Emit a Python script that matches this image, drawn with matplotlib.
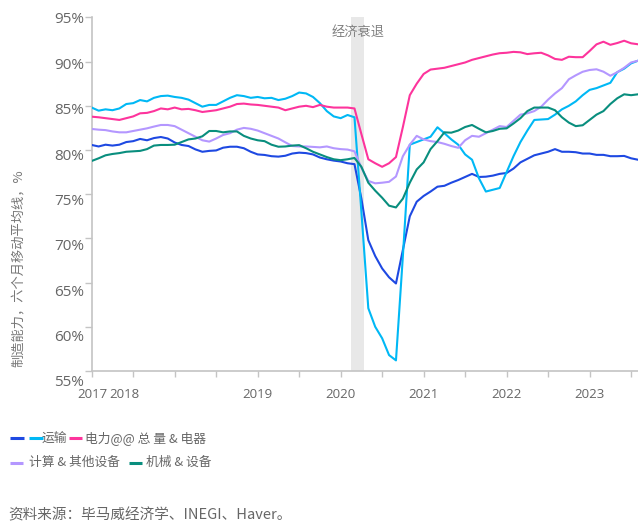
import numpy as np
import pandas as pd
import matplotlib
matplotlib.use("Agg")
import matplotlib.pyplot as plt
from matplotlib.lines import Line2D
import matplotlib.transforms as mtrans

plt.rcParams['font.family'] = ['Open Sans', 'Noto Sans CJK SC', 'DejaVu Sans']

# ---------------- data (monthly, 2017-01 .. 2023-08) ----------------
dates = pd.date_range('2017-01-01', periods=80, freq='MS')

dark_blue = [80.57, 80.4, 80.6, 80.5, 80.6, 80.9, 81.0, 81.25, 81.1, 81.35,
             81.47, 81.3, 80.85, 80.57, 80.45, 80.07, 79.8, 79.9, 79.95, 80.26,
             80.37, 80.37, 80.2, 79.8, 79.5, 79.44, 79.3, 79.25, 79.35, 79.6,
             79.7, 79.65, 79.5, 79.15, 78.95, 78.8, 78.7, 78.5, 78.4, 74.5,
             69.8, 68.0, 66.6, 65.6, 64.9, 68.7, 72.5, 74.15, 74.8, 75.3,
             75.85, 75.95, 76.3, 76.6, 76.95, 77.3, 76.95, 76.98, 77.1, 77.3,
             77.4, 77.9, 78.6, 79.0, 79.4, 79.6, 79.8, 80.1, 79.8, 79.8,
             79.75, 79.6, 79.6, 79.45, 79.45, 79.3, 79.3, 79.33, 79.06, 78.9]

light_blue = [84.8, 84.45, 84.6, 84.5, 84.7, 85.2, 85.3, 85.65, 85.5, 85.9,
              86.1, 86.15, 86.0, 85.9, 85.7, 85.3, 84.9, 85.1, 85.1, 85.5,
              85.9, 86.2, 86.1, 85.9, 86.0, 85.85, 85.9, 85.65, 85.8, 86.1,
              86.5, 86.4, 86.0, 85.3, 84.4, 83.8, 83.6, 83.96, 83.7, 73.0,
              62.1, 60.0, 58.7, 56.8, 56.2, 68.0, 80.6, 80.9, 81.2, 81.5,
              82.57, 81.9, 81.2, 80.6, 79.5, 78.9, 76.8, 75.3, 75.5, 75.7,
              77.5, 79.3, 80.9, 82.2, 83.4, 83.45, 83.5, 84.0, 84.6, 85.0,
              85.5, 86.2, 86.8, 87.0, 87.3, 87.6, 88.8, 89.2, 89.8, 90.1]

pink = [83.77, 83.7, 83.6, 83.5, 83.4, 83.6, 83.8, 84.15, 84.2, 84.4,
        84.7, 84.6, 84.8, 84.6, 84.65, 84.5, 84.3, 84.4, 84.5, 84.7,
        84.9, 85.2, 85.25, 85.15, 85.1, 85.0, 84.9, 84.8, 84.5, 84.7,
        84.9, 85.0, 84.85, 85.1, 84.9, 84.8, 84.8, 84.8, 84.7, 81.8,
        78.95, 78.5, 78.1, 78.5, 79.2, 82.6, 86.2, 87.5, 88.6, 89.1,
        89.2, 89.3, 89.5, 89.7, 89.9, 90.2, 90.4, 90.6, 90.8, 90.95,
        91.0, 91.1, 91.05, 90.85, 90.94, 91.0, 90.7, 90.3, 90.2, 90.55,
        90.5, 90.5, 91.2, 91.95, 92.25, 91.9, 92.1, 92.36, 92.07, 91.96]

lavender = [82.38, 82.3, 82.25, 82.1, 82.0, 82.0, 82.15, 82.3, 82.45, 82.65,
            82.83, 82.83, 82.7, 82.3, 81.9, 81.5, 81.1, 80.95, 81.3, 81.7,
            81.9, 82.3, 82.5, 82.4, 82.2, 81.9, 81.6, 81.3, 80.87, 80.45,
            80.4, 80.4, 80.35, 80.3, 80.4, 80.2, 80.1, 80.05, 79.85, 78.0,
            76.5, 76.23, 76.3, 76.4, 77.0, 79.3, 80.6, 81.6, 81.2, 81.0,
            80.9, 80.7, 80.45, 80.25, 81.1, 81.6, 81.5, 81.9, 82.3, 82.7,
            82.6, 83.3, 84.0, 84.15, 84.4, 84.9, 85.7, 86.4, 87.0, 88.0,
            88.45, 88.85, 89.05, 89.13, 88.86, 88.4, 88.8, 89.3, 89.9, 90.1]

teal = [78.76, 79.06, 79.4, 79.55, 79.65, 79.8, 79.85, 79.9, 80.1, 80.5,
        80.57, 80.57, 80.6, 80.9, 81.2, 81.3, 81.55, 82.15, 82.15, 82.0,
        82.1, 82.1, 81.6, 81.3, 81.1, 81.0, 80.6, 80.37, 80.4, 80.5,
        80.55, 80.2, 79.8, 79.5, 79.2, 78.95, 78.85, 78.95, 79.1, 78.1,
        76.3, 75.4, 74.6, 73.7, 73.5, 74.5, 76.3, 77.8, 78.6, 80.1,
        81.0, 82.0, 81.96, 82.2, 82.6, 82.83, 82.4, 82.0, 82.15, 82.4,
        82.45, 83.0, 83.6, 84.4, 84.8, 84.8, 84.8, 84.5, 83.7, 83.1,
        82.7, 82.8, 83.4, 84.0, 84.4, 85.2, 85.85, 86.3, 86.2, 86.3]

series_labels = ['', '运输', '电力@@ 总 量 & 电器', '计算 & 其他设备', '机械 & 设备']
series_colors = ['#1E49E2', '#00B8F5', '#FD349C', '#B497FF', '#098E7E']

year_labels = ['2017', '2018', '2019', '2020', '2021', '2022', '2023']
year_label_pos = [0.1, 4.7, 24, 36, 48, 60, 72]   # month index of label centres
y_ticks = [55, 60, 65, 70, 75, 80, 85, 90, 95]
recession = (37.5, 39.4)   # month index span
recession_label = '经济衰退'
y_title = '制造能力，六个月移动平均线，%'
source = '资料来源：毕马威经济学、INEGI、Haver。'

# ---------------- figure ----------------
W, H = 638, 522
fig = plt.figure(figsize=(W / 100, H / 100), dpi=100)
ax_l, ax_r, ax_t, ax_b = 91.7, 638, 17.4, 371
ax = fig.add_axes([ax_l / W, 1 - ax_b / H, (ax_r - ax_l) / W, (ax_b - ax_t) / H])

x = np.arange(len(dates))
ax.axvspan(recession[0], recession[1], color='#e8e8e8', lw=0, zorder=0)
ax.text(np.mean(recession), 93.35, recession_label, ha='center', va='center',
        fontsize=9.5, color='#808080', family=['Noto Sans CJK SC'])

for vals, col in zip([dark_blue, light_blue, pink, lavender, teal], series_colors):
    ax.plot(x, vals, color=col, lw=1.5, solid_joinstyle='round', zorder=3)

ax.set_xlim(0, 79)
ax.set_ylim(55, 95)

for s in ['top', 'right']:
    ax.spines[s].set_visible(False)
for s in ['left', 'bottom']:
    ax.spines[s].set_color('#c4c4c4')
    ax.spines[s].set_linewidth(1.2)

ax.xaxis.remove_overlapping_locs = False
ax.set_xticks(np.arange(0, 80, 6))
ax.set_xticklabels([])
ax.tick_params(axis='x', which='major', length=4, width=1, color='#c4c4c4')
ax.set_xticks(year_label_pos, minor=True)
ax.set_xticklabels(year_labels, minor=True)
ax.tick_params(axis='x', which='minor', length=0, pad=12, labelsize=9.5, labelcolor='#666666')

ax.set_yticks(y_ticks)
ax.set_yticklabels([])
ax.tick_params(axis='y', which='major', length=5, width=1, color='#c4c4c4')
trans = mtrans.blended_transform_factory(ax.transAxes, ax.transData)
for v in y_ticks:
    v_lab = v - 0.29 - 0.0266 * (95 - v)
    ax.text(-7.7 / (ax_r - ax_l), v_lab, f'{v}%', transform=trans, ha='right', va='center',
            fontsize=11, color='#666666', clip_on=False)

# y title
fig.text(18 / W, 1 - 367 / H, y_title, rotation=90, ha='center', va='bottom',
         fontsize=9.5, color='#777777', family=['Noto Sans CJK SC'])

# legend (manual layout)
def swatch(x0, x1, y, col):
    fig.add_artist(Line2D([x0 / W, x1 / W], [1 - y / H, 1 - y / H], color=col, lw=2.2,
                          transform=fig.transFigure, solid_capstyle='butt'))

def ltext(x0, y, s):
    fig.text(x0 / W, 1 - y / H, s, ha='left', va='center', fontsize=9.2, color='#666666',
             family=['Noto Sans CJK SC', 'DejaVu Sans'])

swatch(10, 24, 438, series_colors[0])
swatch(29, 42.5, 438, series_colors[1])
ltext(42, 438, series_labels[1])
swatch(68.5, 82, 438, series_colors[2])
ltext(85, 438, series_labels[2])
swatch(10, 23, 462.5, series_colors[3])
ltext(29, 462.5, series_labels[3])
swatch(128.5, 142, 462.5, series_colors[4])
ltext(146, 462.5, series_labels[4])

fig.text(8 / W, 1 - 508 / H, source, ha='left', va='top', fontsize=10.5, color='#666666',
         family=['Noto Sans CJK SC', 'DejaVu Sans'])

fig.savefig('out.png', dpi=100)
